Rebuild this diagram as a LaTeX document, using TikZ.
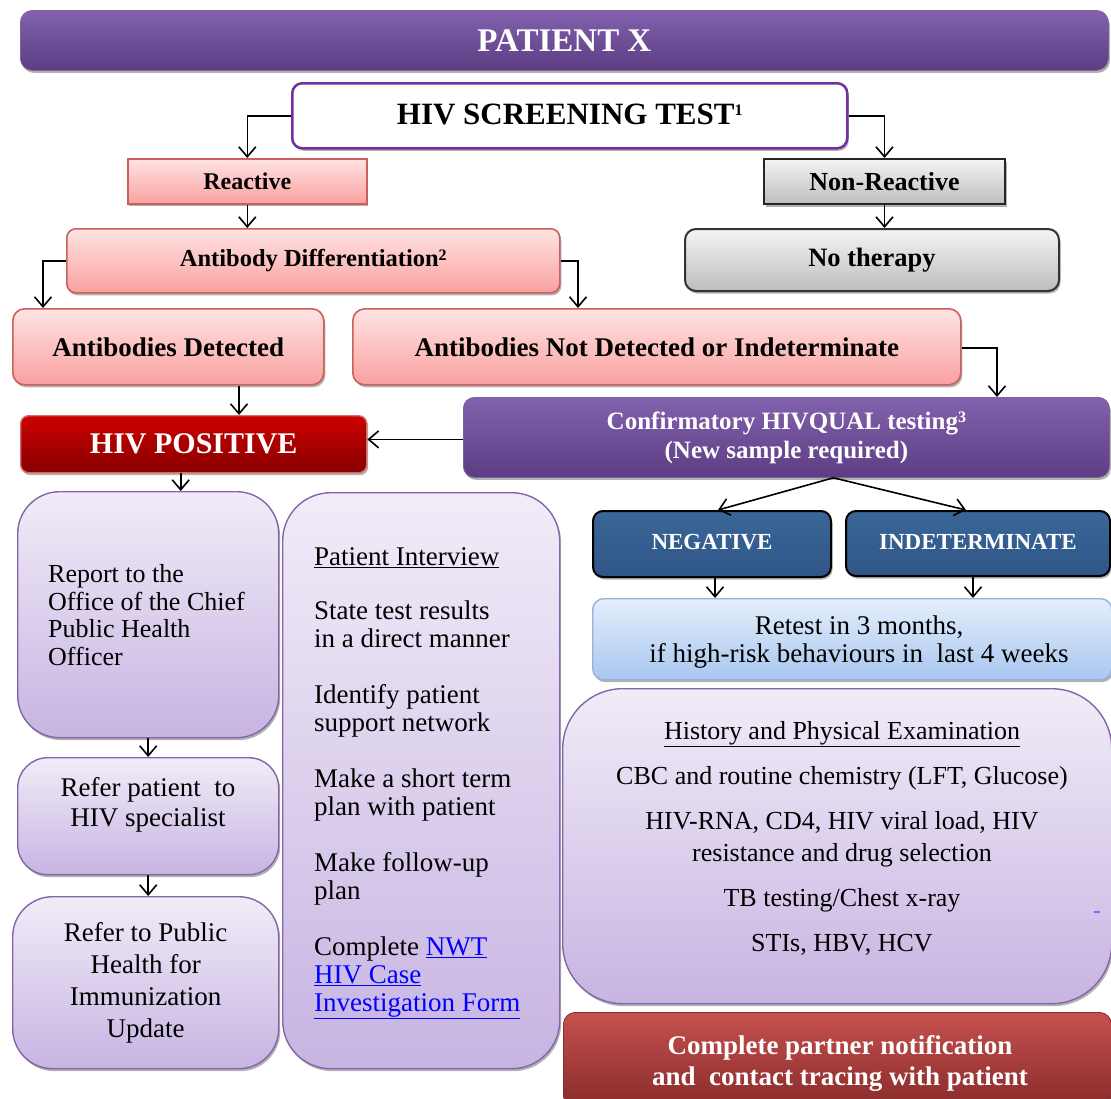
\documentclass[tikz,border=0pt]{standalone}
\usepackage{fontspec}
\setmainfont{Liberation Serif}
\usetikzlibrary{arrows.meta,shadows,calc}
\definecolor{purpletop}{HTML}{8262AE}
\definecolor{purplebot}{HTML}{5C3C82}
\definecolor{screenborder}{HTML}{7030A0}
\definecolor{pinktop}{HTML}{FFE3E3}
\definecolor{pinkbot}{HTML}{F9A19F}
\definecolor{pinkborder}{HTML}{C9605C}
\definecolor{graytop}{HTML}{F4F4F4}
\definecolor{graybot}{HTML}{BDBDBD}
\definecolor{redtop}{HTML}{CC0000}
\definecolor{redbot}{HTML}{880000}
\definecolor{redborder}{HTML}{D46A6A}
\definecolor{navytop}{HTML}{3A6698}
\definecolor{navybot}{HTML}{2F5687}
\definecolor{bluetop}{HTML}{E4EEFB}
\definecolor{bluebot}{HTML}{A8C7EF}
\definecolor{blueborder}{HTML}{95B3D7}
\definecolor{lavtop}{HTML}{F1ECF8}
\definecolor{lavbot}{HTML}{C7B4E2}
\definecolor{lavborder}{HTML}{8466A8}
\definecolor{partnertop}{HTML}{C4514F}
\definecolor{partnerbot}{HTML}{892B2A}
\definecolor{linkblue}{HTML}{0000FF}
\newcommand{\fs}[2]{\fontsize{#1}{#2}\selectfont}
\newcommand{\supnum}[1]{\raisebox{0.6ex}{\fs{16}{16}#1}}
\begin{document}
\begin{tikzpicture}[x=1pt,y=-1pt,
  shad/.style={drop shadow={shadow xshift=1.5pt,shadow yshift=-2.5pt,opacity=0.3,fill=black}},
  box/.style={inner sep=0pt,anchor=north west,align=center,shad},
  purplebox/.style={box,top color=purpletop,bottom color=purplebot,draw=purplebot!80,line width=0.8pt,text=white},
  pinkbox/.style={box,top color=pinktop,bottom color=pinkbot,draw=pinkborder,line width=1.6pt},
  graybox/.style={box,top color=graytop,bottom color=graybot,draw=black!85,line width=2pt},
  navybox/.style={box,top color=navytop,bottom color=navybot,draw=black,line width=2pt,text=white,rounded corners=10pt,font=\bfseries\fs{23}{27}},
  lavbox/.style={box,top color=lavtop,bottom color=lavbot,draw=lavborder,line width=1.4pt},
  txt/.style={inner sep=0pt,align=left},
  arr/.style={draw=black,line width=1.6pt,-{Straight Barb[length=10pt,width=17pt,line width=1.6pt]}}
]
\useasboundingbox (0,0) rectangle (1111,1098);
\fill[white] (0,0) rectangle (1111,1098);

% title
\node[purplebox,rounded corners=12pt,minimum width=1088,minimum height=60,font=\bfseries\fs{33}{36}] (title) at (20,10) {PATIENT X};

% screening
\node[box,fill=white,draw=screenborder,line width=2.5pt,rounded corners=10pt,minimum width=555,minimum height=65,font=\bfseries\fs{31}{34}] (screen) at (291,82) {\raisebox{3pt}{HIV SCREENING TEST\supnum{1}}};

% reactive branch
\node[pinkbox,minimum width=239,minimum height=45,font=\bfseries\fs{24}{27}] (reactive) at (127,158) {Reactive};
\node[pinkbox,rounded corners=9pt,minimum width=493,minimum height=64,font=\bfseries\fs{24.5}{28}] (abdiff) at (66,228) {Antibody Differentiation\supnum{2}};
\node[pinkbox,rounded corners=12pt,minimum width=311,minimum height=76,font=\bfseries\fs{27}{30}] (abdet) at (12,308) {Antibodies Detected};
\node[pinkbox,rounded corners=12pt,minimum width=608,minimum height=76,font=\bfseries\fs{27}{30}] (abnd) at (352,308) {Antibodies Not Detected or Indeterminate};

% non-reactive branch
\node[graybox,minimum width=241,minimum height=45,font=\bfseries\fs{26}{29}] (nonreact) at (763,158) {Non-Reactive};
\node[graybox,draw=black!80,rounded corners=11pt,minimum width=374,minimum height=62,font=\bfseries\fs{26.5}{29}] (notherapy) at (684,228) {\raisebox{3pt}{No therapy}};

% HIV positive and confirmatory
\node[box,top color=redtop,bottom color=redbot,draw=redborder,line width=1.4pt,rounded corners=8pt,text=white,minimum width=346,minimum height=57,font=\bfseries\fs{30}{33}] (hivpos) at (20,415) {HIV POSITIVE};
\node[purplebox,rounded corners=11pt,minimum width=646,minimum height=80,font=\bfseries\fs{25}{29}] (conf) at (463,397) {Confirmatory HIVQUAL testing\supnum{3}\\(New sample required)};

\node[navybox,minimum width=238,minimum height=66] (neg) at (592,510) {\raisebox{4pt}{NEGATIVE}};
\node[navybox,minimum width=264,minimum height=65] (indet) at (845,510) {\raisebox{4pt}{INDETERMINATE}};

\node[box,top color=bluetop,bottom color=bluebot,draw=blueborder,line width=1.4pt,rounded corners=11pt,minimum width=519,minimum height=81] (retest) at (592,598) {};
\node[txt,align=center,font=\fs{27}{28}] (retesttext) at (859,642) {Retest in 3 months,\\if high-risk behaviours in\ \ last 4 weeks};

% history
\node[lavbox,rounded corners=60pt,minimum width=549,minimum height=315] (history) at (562,688) {};
\node[txt,align=center,font=\fs{26}{32}] (histtext) at (842,838) {\underline{History and Physical Examination}\\[13pt]
CBC and routine chemistry (LFT, Glucose)\\[13pt]
HIV-RNA, CD4, HIV viral load, HIV\\
resistance and drug selection\\[13pt]
TB testing/Chest x-ray\\[13pt]
STIs, HBV, HCV};
\draw[color=blue!55,line width=1.3pt] (1094,912) -- (1100,912);

\node[box,top color=partnertop,bottom color=partnerbot,draw=partnerbot,line width=0.8pt,rounded corners=12pt,text=white,minimum width=548,minimum height=95] (partner) at (563,1012) {};
\node[txt,align=center,text=white,font=\bfseries\fs{27}{31}] (partnertext) at (840,1063) {Complete partner notification\\and\ \ contact tracing with patient};

% left column
\node[lavbox,rounded corners=42pt,minimum width=261,minimum height=246] (report) at (17,491) {};
\node[txt,anchor=west,font=\fs{26}{27.5}] (reporttext) at (48,615) {Report to the\\Office of the Chief\\Public Health\\Officer};

\node[lavbox,rounded corners=30pt,minimum width=261,minimum height=117] (referhiv) at (17,757) {};
\node[txt,align=center,font=\fs{27}{30}] (referhivtext) at (148,805) {Refer patient\ \ to\\HIV specialist};

\node[lavbox,rounded corners=40pt,minimum width=266,minimum height=172,font=\fs{27}{32}] (referph) at (12,896) {Refer to Public\\Health for\\Immunization\\Update};

% patient interview
\node[lavbox,rounded corners=48pt,minimum width=277,minimum height=576] (pi) at (282,492) {};
\node[txt,anchor=west,font=\fs{27}{28}] (pitext) at (314,783) {\underline{Patient Interview}\\[26pt]
State test results\\in a direct manner\\[28pt]
Identify patient\\support network\\[28pt]
Make a short term\\plan with patient\\[28pt]
Make follow-up\\plan\\[28pt]
Complete {\color{linkblue}\underline{NWT}}\\
{\color{linkblue}\underline{HIV Case}}\\
{\color{linkblue}\underline{Investigation Form}}};

% connectors
\draw[arr] (screen.west) -| (reactive.north);
\draw[arr] (screen.east) -| (nonreact.north);
\draw[arr] (reactive.south) -- (reactive.south |- abdiff.north);
\draw[arr] (nonreact.south) -- (nonreact.south |- notherapy.north);
\draw[arr] (abdiff.west) -| ([xshift=31pt]abdet.north west);
\draw[arr] (abdiff.east) -| ([xshift=226pt]abnd.north west);
\draw[arr] ([yshift=-1pt]abnd.east) -| ([xshift=534pt]conf.north west);
\draw[arr] ([xshift=227pt]abdet.south west) -- ([xshift=227pt]abdet.south west |- hivpos.north);
\draw[arr] ([yshift=-2pt]conf.west) -- ([yshift=-2pt]conf.west -| hivpos.east);
\coordinate (apex) at ([xshift=47pt]conf.south);
\draw[arr] (apex) -- ([xshift=6pt]neg.north);
\draw[arr] (apex) -- ([xshift=-12pt]indet.north);
\draw[arr] ([xshift=3pt]neg.south) -- ([xshift=3pt]neg.south |- retest.north);
\draw[arr] ([xshift=-5pt]indet.south) -- ([xshift=-5pt]indet.south |- retest.north);
\draw[arr] ([xshift=-13pt]hivpos.south) -- ([xshift=-13pt]hivpos.south |- report.north);
\draw[arr] (report.south) -- (report.south |- referhiv.north);
\draw[arr] (referhiv.south) -- (referhiv.south |- referph.north);
\end{tikzpicture}
\end{document}
